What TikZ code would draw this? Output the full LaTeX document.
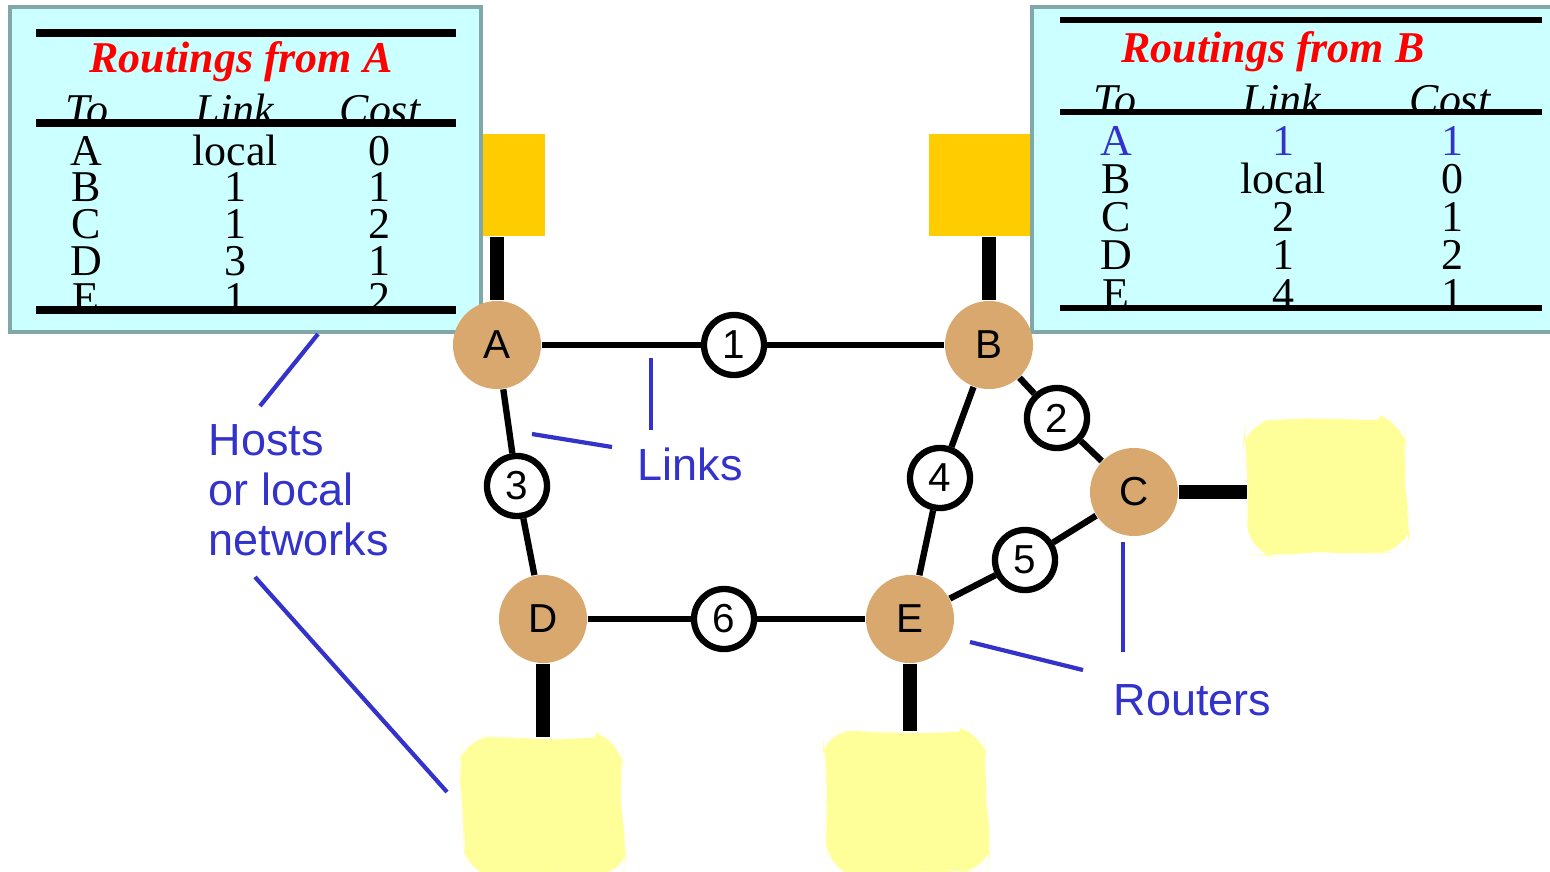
\documentclass[tikz,border=0pt]{standalone}
\usepackage{fontspec}
\setmainfont{Liberation Serif}
\setsansfont{Liberation Sans}
\usepackage{xcolor}
\usetikzlibrary{decorations.pathmorphing}

\definecolor{routertan}{HTML}{D8A86E}
\definecolor{tablecyan}{HTML}{CCFFFF}
\definecolor{tableedge}{HTML}{80A8A8}
\definecolor{hostgold}{HTML}{FFCC00}
\definecolor{netyellow}{HTML}{FFFF99}
\definecolor{labelblue}{HTML}{3333CC}

\tikzset{
	router/.style={circle, fill=routertan, minimum size=0.88cm, inner sep=0pt, font=\sffamily\fontsize{11.5}{12}\selectfont},
	linknum/.style={circle, draw, fill=white, line width=1.8pt, minimum size=0.6cm, inner sep=0pt, font=\sffamily\fontsize{11.5}{12}\selectfont},
	wire/.style={line width=1.8pt},
	stub/.style={line width=4.2pt},
	hostbox/.style={fill=hostgold, minimum width=1.02cm, minimum height=1.02cm, inner sep=0pt},
	lan/.style={fill=netyellow, inner sep=0pt, rounded corners=8pt, decorate, decoration={random steps, segment length=8pt, amplitude=1pt}},
	tabcell/.style={anchor=base, inner sep=0pt, text height=8.8pt, text depth=0pt, font=\fontsize{12.5}{14}\selectfont},
	tabhead/.style={tabcell, font=\fontsize{12.5}{14}\selectfont\itshape},
	tabtitle/.style={tabcell, text=red, font=\fontsize{12.5}{14}\selectfont\bfseries\itshape},
	tabrule/.style={line width=2pt},
	notetext/.style={text=labelblue, inner sep=0pt, font=\sffamily\fontsize{12.8}{14.2}\selectfont},
	pointer/.style={labelblue, line width=1.2pt},
}

\begin{document}
\pgfmathsetseed{7}
\begin{tikzpicture}[x=0.01cm, y=-0.01cm]
	\useasboundingbox (0,0) rectangle (1550,872);

	% hosts of A and B, partly behind the tables
	\node[hostbox] (hostA) at (494,185) {};
	\node[hostbox] (hostB) at (980,185) {};

	% routing table of A
	\draw[fill=tablecyan, draw=tableedge, line width=1pt] (10,7) rectangle (481,332);
	\node[tabtitle] (titleA) at (241,72) {Routings from A};
	\node[tabhead] (toA) at (87,124) {To};
	\node[tabhead] (viaA) at (235,124) {Link};
	\node[tabhead] (costA) at (380,124) {Cost};
	\foreach \dest/\via/\cost [count=\i] in {A/local/0, B/1/1, C/1/2, D/3/1, E/1/2} {
		\node[tabcell] (toA\i) at (86,{165+36.75*(\i-1)}) {\dest};
		\node[tabcell] (viaA\i) at (235,{165+36.75*(\i-1)}) {\via};
		\node[tabcell] (costA\i) at (379,{165+36.75*(\i-1)}) {\cost};
	}
	\draw[tabrule] (36,33) -- (456,33);
	\draw[tabrule] (36,123) -- (456,123);
	\draw[tabrule] (36,310) -- (456,310);

	% routing table of B
	\draw[fill=tablecyan, draw=tableedge, line width=1pt] (1032,7) rectangle (1560,332);
	\node[tabtitle] (titleB) at (1273,62) {Routings from B};
	\node[tabhead] (toB) at (1115,114) {To};
	\node[tabhead] (viaB) at (1282,114) {Link};
	\node[tabhead] (costB) at (1450,114) {Cost};
	\foreach \dest/\via/\cost/\ink [count=\i] in {A/1/1/labelblue, B/local/0/black, C/2/1/black, D/1/2/black, E/4/1/black} {
		\node[tabcell, text=\ink] (toB\i) at (1116,{155+38.25*(\i-1)}) {\dest};
		\node[tabcell, text=\ink] (viaB\i) at (1283,{155+38.25*(\i-1)}) {\via};
		\node[tabcell, text=\ink] (costB\i) at (1452,{155+38.25*(\i-1)}) {\cost};
	}
	\draw[tabrule, line width=1.5pt] (1060,20) -- (1542,20);
	\draw[tabrule, line width=1.7pt] (1060,112) -- (1542,112);
	\draw[tabrule, line width=1.7pt] (1060,308) -- (1542,308);

	% local networks
	\node[lan, minimum width=1.59cm, minimum height=1.33cm] (hostC) at (1327,486) {};
	\node[lan, minimum width=1.59cm, minimum height=1.35cm] (hostD) at (543,805) {};
	\node[lan, minimum width=1.60cm, minimum height=1.40cm] (hostE) at (907,802) {};

	% routers
	\node[router] (A) at (497,345) {A};
	\node[router] (B) at (989,345) {B};
	\node[router] (C) at (1134,492) {C};
	\node[router] (D) at (543,619) {D};
	\node[router] (E) at (910,619) {E};

	% links
	\node[linknum] (l1) at (734,345) {1};
	\node[linknum] (l2) at (1057,418) {2};
	\node[linknum] (l3) at (517,486) {3};
	\node[linknum] (l4) at (940,478) {4};
	\node[linknum] (l5) at (1025,560) {5};
	\node[linknum] (l6) at (724,619) {6};

	\draw[wire] (A) -- (l1) -- (B);
	\draw[wire] (B) -- (l2) -- (C);
	\draw[wire] (A) -- (l3) -- (D);
	\draw[wire] (B) -- (l4) -- (E);
	\draw[wire] (E) -- (l5) -- (C);
	\draw[wire] (D) -- (l6) -- (E);

	\draw[stub] (hostA.south -| A) -- (A.north);
	\draw[stub] (hostB.south -| B) -- (B.north);
	\draw[stub] (C.east) -- (C.east -| hostC.west);
	\draw[stub] (D.south) -- (D.south |- hostD.north);
	\draw[stub] (E.south) -- (E.south |- hostE.north);

	% labels
	\node[notetext, anchor=north west, align=left] (hostsNote) at (208,424) {Hosts\\or local\\networks};
	\node[notetext, anchor=base west] (linksNote) at (637,480) {Links};
	\node[notetext, anchor=base west] (routersNote) at (1113,715) {Routers};

	\coordinate (h1) at (318,334);
	\coordinate (h2) at (260,406);
	\coordinate (h3) at (255,577);
	\coordinate (h4) at (447,792);
	\coordinate (k1) at (651,358);
	\coordinate (k2) at (651,430);
	\coordinate (k3) at (532,434);
	\coordinate (k4) at (612,447);
	\coordinate (r1) at (970,642);
	\coordinate (r2) at (1083,670);
	\coordinate (r3) at (1123,542);
	\coordinate (r4) at (1123,652);
	\draw[pointer] (h1) -- (h2);
	\draw[pointer] (h3) -- (h4);
	\draw[pointer] (k1) -- (k2);
	\draw[pointer] (k3) -- (k4);
	\draw[pointer] (r1) -- (r2);
	\draw[pointer] (r3) -- (r4);
\end{tikzpicture}
\end{document}
